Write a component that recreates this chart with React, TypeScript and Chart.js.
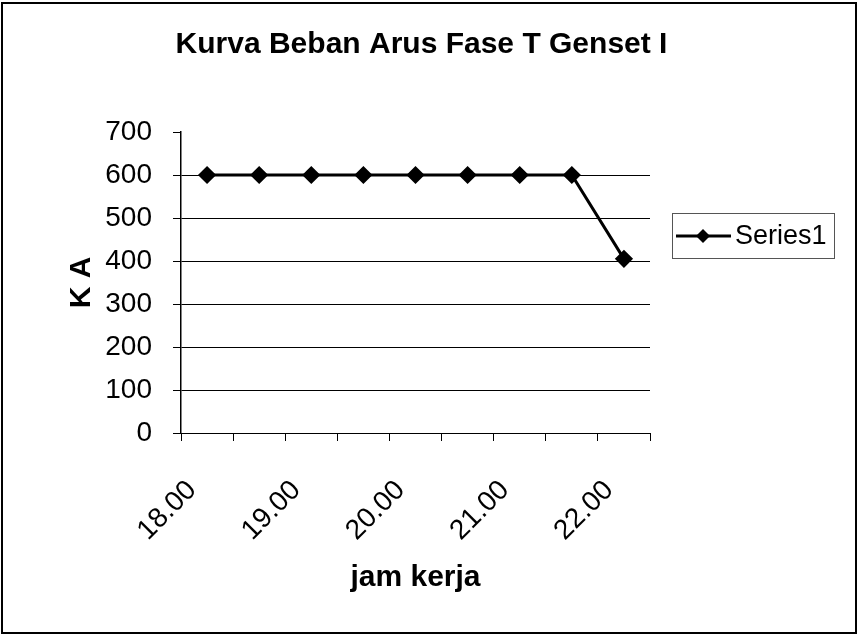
import React, { useEffect, useRef } from "react";
import { Chart, registerables } from "chart.js";

Chart.register(...registerables);

const categories = ["18.00", "18.30", "19.00", "19.30", "20.00", "20.30", "21.00", "21.30", "22.00"];
const seriesValues = [600, 600, 600, 600, 600, 600, 600, 600, 405];
const seriesName = "Series1";
const chartTitle = "Kurva Beban Arus Fase T Genset I";
const xTitle = "jam kerja";
const yTitle = "K A";
const yMin = 0;
const yMax = 700;
const yStep = 100;

const FAMILY = "'Liberation Sans', Arial, Helvetica, sans-serif";

const frameAndLegend = {
  id: "frameAndLegend",
  afterDraw(chart: any) {
    const ctx = chart.ctx;
    ctx.save();
    // outer frame
    ctx.strokeStyle = "#000";
    ctx.lineWidth = 2;
    ctx.strokeRect(2, 3, 854, 630);
    // legend box
    const ds = chart.data.datasets[0];
    ctx.strokeStyle = "#555";
    ctx.lineWidth = 1;
    ctx.strokeRect(672.5, 213.5, 162, 45);
    const cy = 236;
    ctx.strokeStyle = "#000";
    ctx.lineWidth = 3;
    ctx.beginPath();
    ctx.moveTo(676, cy);
    ctx.lineTo(731, cy);
    ctx.stroke();
    ctx.fillStyle = "#000";
    ctx.beginPath();
    ctx.moveTo(703, cy - 7);
    ctx.lineTo(710, cy);
    ctx.lineTo(703, cy + 7);
    ctx.lineTo(696, cy);
    ctx.closePath();
    ctx.fill();
    ctx.font = `27px ${FAMILY}`;
    ctx.textAlign = "left";
    ctx.textBaseline = "middle";
    ctx.fillText(ds.label, 735, cy + 1);
    ctx.restore();
  },
};

export default function App() {
  const canvasRef = useRef<HTMLCanvasElement | null>(null);

  useEffect(() => {
    document.body.style.margin = "0";
    const canvas = canvasRef.current;
    if (!canvas) return;
    const chart = new Chart(canvas, {
      type: "line",
      data: {
        labels: categories,
        datasets: [
          {
            label: seriesName,
            data: seriesValues,
            borderColor: "#000",
            backgroundColor: "#000",
            borderWidth: 3,
            pointStyle: "rectRot",
            pointRadius: 7,
            pointBackgroundColor: "#000",
            pointBorderColor: "#000",
            tension: 0,
            fill: false,
            yAxisID: "y",
          },
        ],
      },
      options: {
        responsive: false,
        animation: false,
        layout: { padding: { left: 0, right: 16, top: 5, bottom: 4 } },
        plugins: {
          legend: { display: false },
          tooltip: { enabled: false },
          title: {
            display: true,
            text: chartTitle,
            color: "#000",
            font: { size: 30, weight: "bold", family: FAMILY },
            padding: { top: 22, bottom: 69 },
          },
        },
        scales: {
          x: {
            type: "category",
            offset: true,
            grid: {
              offset: true,
              drawOnChartArea: false,
              drawTicks: true,
              tickLength: 8,
              color: "#000",
              tickColor: "#000",
              lineWidth: 1,
            },
            border: { display: true, color: "#000", width: 1 },
            ticks: {
              autoSkip: false,
              maxRotation: 45,
              minRotation: 45,
              labelOffset: -15,
              padding: 33,
              color: "#000",
              font: { size: 28, family: FAMILY },
              callback: (_v: any, i: number) => (i % 2 === 0 ? categories[i] : ""),
            },
            title: {
              display: true,
              text: xTitle,
              color: "#000",
              font: { size: 30, weight: "bold", family: FAMILY },
              padding: { top: 0, bottom: 37 },
            },
            afterFit: (s: any) => {
              s.height = 200;
            },
          },
          y: {
            type: "linear",
            position: "left",
            min: yMin,
            max: yMax,
            ticks: {
              stepSize: yStep,
              padding: 21,
              color: "#000",
              font: { size: 28, family: FAMILY },
            },
            grid: {
              color: (c: any) => (c.tick && c.tick.value === yMax ? "rgba(0,0,0,0)" : "#000"),
              tickColor: "#000",
              tickLength: 8,
              lineWidth: 1,
            },
            border: { display: true, color: "#000", width: 1.5 },
            title: {
              display: true,
              text: yTitle,
              color: "#000",
              font: { size: 30, weight: "bold", family: FAMILY },
              padding: { top: 64, bottom: 0 },
            },
            afterFit: (s: any) => {
              s.width = 181;
            },
          },
          spacer: {
            type: "linear",
            position: "right",
            display: true,
            grid: { display: false, drawOnChartArea: false, drawTicks: false },
            border: { display: false },
            ticks: { display: false },
            afterFit: (s: any) => {
              s.width = 193;
            },
          },
        },
      } as any,
      plugins: [frameAndLegend],
    });
    return () => chart.destroy();
  }, []);

  return (
    <div style={{ width: 859, height: 637, background: "#fff" }}>
      <canvas ref={canvasRef} width={859} height={637} style={{ display: "block", width: 859, height: 637 }} />
    </div>
  );
}
